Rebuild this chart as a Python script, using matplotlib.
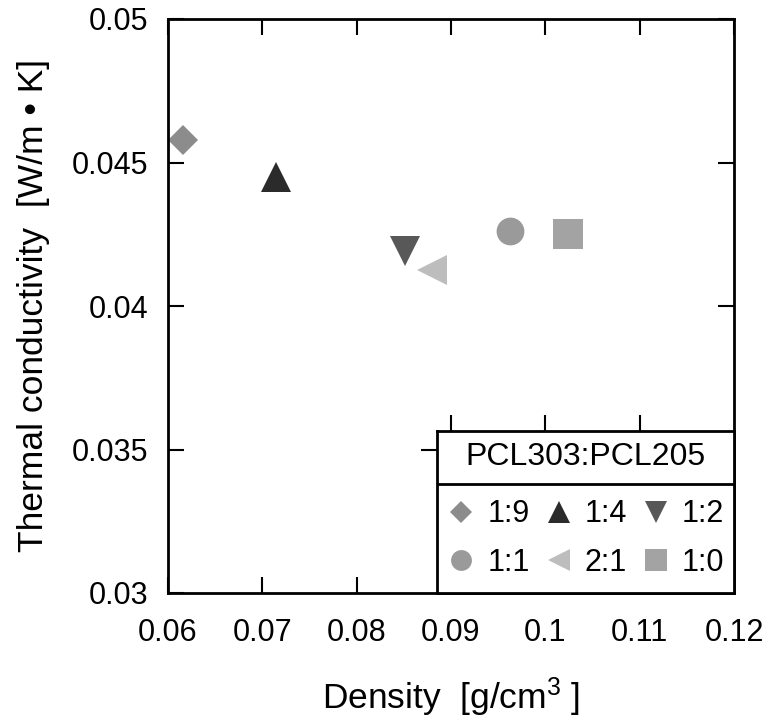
import matplotlib
matplotlib.use("Agg")
import matplotlib.pyplot as plt

plt.rcParams['font.family'] = ['Liberation Sans', 'DejaVu Sans']
plt.rcParams['mathtext.fontset'] = 'custom'
plt.rcParams['mathtext.rm'] = 'Liberation Sans'
plt.rcParams['mathtext.it'] = 'Liberation Sans'

# Data
labels = ['1:9', '1:4', '1:2', '1:1', '2:1', '1:0']
density = [0.0616, 0.0715, 0.0851, 0.0963, 0.0880, 0.1024]
conductivity = [0.0458, 0.0445, 0.0419, 0.0426, 0.04125, 0.0425]
markers = ['D', '^', 'v', 'o', '<', 's']
sizes = [14.8, 21, 21, 20, 21, 21.5]
colors = ['#8c8c8c', '#2b2b2b', '#585858', '#9a9a9a', '#bdbdbd', '#a3a3a3']
xticks = [0.06, 0.07, 0.08, 0.09, 0.1, 0.11, 0.12]
xticklabels = ['0.06', '0.07', '0.08', '0.09', '0.1', '0.11', '0.12']
yticks = [0.03, 0.035, 0.04, 0.045, 0.05]
yticklabels = ['0.03', '0.035', '0.04', '0.045', '0.05']
legend_title = 'PCL303:PCL205'

fig = plt.figure(figsize=(7.71, 7.18), dpi=100)
ax = fig.add_axes([168/771, 1-593/718, (734-168)/771, (593-19)/718])

handles = {}
for lab, x, y, m, s, c in zip(labels, density, conductivity, markers, sizes, colors):
    h, = ax.plot([x], [y], linestyle='none', marker=m, markersize=s,
                 color=c, markeredgewidth=0, label=lab)
    handles[lab] = h

ax.set_xlim(0.06, 0.12)
ax.set_ylim(0.03, 0.05)
ax.set_xticks(xticks)
ax.set_xticklabels(xticklabels)
ax.set_yticks(yticks)
ax.set_yticklabels(yticklabels)
ax.tick_params(direction='in', length=11.5, width=1.5, top=True, right=True,
               labelsize=22, color='black')
ax.tick_params(axis='x', pad=18)
ax.tick_params(axis='y', pad=14)
for sp in ax.spines.values():
    sp.set_linewidth(2)

ax.set_xlabel('Density  [g/cm$^{3}$ ]', fontsize=25.5, labelpad=20)
ax.set_ylabel('Thermal conductivity  [W/m \u2022 K]', fontsize=25.5, labelpad=16)

# Legend box (inset in data coordinates)
lx0, lx1 = 0.08847, 0.12
ly0, ly1 = 0.03, 0.035645
ydiv = 0.0338
box = ax.inset_axes([lx0, ly0, lx1 - lx0, ly1 - ly0], transform=ax.transData)
box.set_xlim(lx0, lx1)
box.set_ylim(ly0, ly1)
box.set_facecolor('white')
box.set_xticks([0.09, 0.1, 0.11])
box.set_yticks([0.035])
box.tick_params(direction='out', length=11.5, width=1.5, top=True, bottom=False,
                labeltop=False, labelbottom=False, labelleft=False, right=False)
for sp in box.spines.values():
    sp.set_linewidth(2)
box.axhline(ydiv, color='black', linewidth=2)
box.text((lx0 + lx1) / 2, (ydiv + ly1) / 2, legend_title, ha='center', va='center',
         fontsize=23)

order = ['1:9', '1:1', '1:4', '2:1', '1:2', '1:0']
div_frac = (ydiv - ly0) / (ly1 - ly0)
box.legend([handles[k] for k in order], order, ncol=3, loc='center',
           bbox_to_anchor=(0.5, div_frac / 2), frameon=False, fontsize=22,
           markerscale=0.75, handlelength=1.0, handletextpad=0.35,
           columnspacing=0.45, labelspacing=0.6, borderpad=0)

fig.savefig('out.png', dpi=100)
